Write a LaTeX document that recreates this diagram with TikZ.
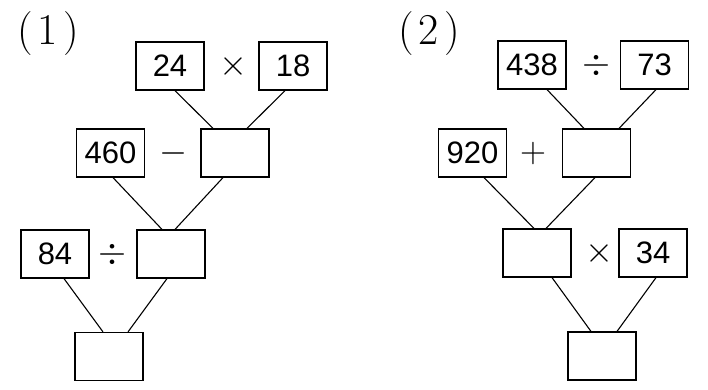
\RequirePackage{fix-cm}
\documentclass[tikz,border=0pt]{standalone}
\usepackage{fontspec}
\newfontfamily\numfont{Liberation Sans}
\usepackage{tikz}
\usetikzlibrary{calc}

\tikzset{
  numbox/.style={draw, line width=1.2pt, minimum width=68pt, minimum height=48pt,
    inner sep=0pt, font=\numfont\fontsize{31}{34}\selectfont},
  opsym/.style={inner sep=0pt, font=\fontsize{36}{40}\selectfont},
  tag/.style={inner sep=0pt, font=\fontsize{44}{48}\selectfont},
  link/.style={line width=1.1pt}
}

\begin{document}
\begin{tikzpicture}[x=1pt, y=-1pt]
  \useasboundingbox (0,0) rectangle (708,389);

  % (1)
  \node[tag] (t1) at (48,34) {(\kern5pt1\kern5pt)};
  \node[numbox] (a24) at (170,66) {24};
  \node[opsym] (m1) at (233,66) {$\times$};
  \node[numbox] (a18) at (293,66) {18};
  \node[numbox] (a460) at (110.5,153) {460};
  \node[opsym] (s1) at (173,153) {$-$};
  \node[numbox] (r1a) at (235,153) {};
  \node[numbox] (a84) at (55,254) {84};
  \node[opsym] (d1) at (112,254) {$\div$};
  \node[numbox] (r1b) at (171,254) {};
  \node[numbox] (r1c) at (109,356.5) {};
  \draw[link] ([xshift=5pt]a24.south) -- ([xshift=-22pt]r1a.north);
  \draw[link] ([xshift=-8pt]a18.south) -- ([xshift=12pt]r1a.north);
  \draw[link] ([xshift=2.5pt]a460.south) -- ([xshift=-9pt]r1b.north);
  \draw[link] ([xshift=-12pt]r1a.south) -- ([xshift=4pt]r1b.north);
  \draw[link] ([xshift=9pt]a84.south) -- ([xshift=-6pt]r1c.north);
  \draw[link] ([xshift=-4pt]r1b.south) -- ([xshift=19pt]r1c.north);

  % (2)
  \node[tag] (t2) at (429,34) {(\kern5pt2\kern5pt)};
  \node[numbox] (b438) at (532,65) {438};
  \node[opsym] (d2) at (596,65) {$\div$};
  \node[numbox] (b73) at (654.5,65) {73};
  \node[numbox] (b920) at (472.5,153) {920};
  \node[opsym] (p2) at (533,153) {$+$};
  \node[numbox] (r2a) at (596.5,153) {};
  \node[numbox] (r2b) at (537,253) {};
  \node[opsym] (m2) at (599,253) {$\times$};
  \node[numbox] (b34) at (653,253) {34};
  \node[numbox] (r2c) at (602,356) {};
  \draw[link] ([xshift=15pt]b438.south) -- ([xshift=-12.5pt]r2a.north);
  \draw[link] ([xshift=1.5pt]b73.south) -- ([xshift=22.5pt]r2a.north);
  \draw[link] ([xshift=11.5pt]b920.south) -- ([xshift=-3pt]r2b.north);
  \draw[link] ([xshift=-1.5pt]r2a.south) -- ([xshift=9pt]r2b.north);
  \draw[link] ([xshift=15pt]r2b.south) -- ([xshift=-11pt]r2c.north);
  \draw[link] ([xshift=3pt]b34.south) -- ([xshift=15pt]r2c.north);
\end{tikzpicture}
\end{document}
